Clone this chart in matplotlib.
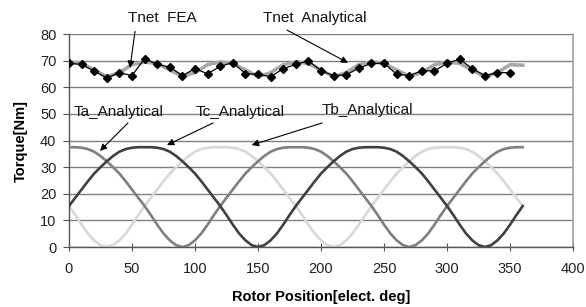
import matplotlib.pyplot as plt

plt.rcParams['font.family'] = ['Liberation Sans', 'DejaVu Sans']

# rotor position [elect. deg]
pos = [0, 5, 10, 15, 20, 25, 30, 35, 40, 45, 50, 55, 60, 65, 70, 75, 80, 85, 90,
       95, 100, 105, 110, 115, 120, 125, 130, 135, 140, 145, 150, 155, 160, 165, 170, 175, 180,
       185, 190, 195, 200, 205, 210, 215, 220, 225, 230, 235, 240, 245, 250, 255, 260, 265, 270,
       275, 280, 285, 290, 295, 300, 305, 310, 315, 320, 325, 330, 335, 340, 345, 350, 355, 360]

ta = [37.5, 37.5, 37.3, 36.8, 35.8, 34.2, 32.2, 30.0, 27.6, 24.7, 21.6, 18.5, 15.4, 12.0, 8.4, 5.1, 2.5, 0.7, 0.0,
      0.7, 2.5, 5.1, 8.4, 12.0, 15.4, 18.5, 21.6, 24.7, 27.6, 30.0, 32.2, 34.2, 35.8, 36.8, 37.3, 37.5, 37.5,
      37.5, 37.3, 36.8, 35.8, 34.2, 32.2, 30.0, 27.6, 24.7, 21.6, 18.5, 15.4, 12.0, 8.4, 5.1, 2.5, 0.7, 0.0,
      0.7, 2.5, 5.1, 8.4, 12.0, 15.4, 18.5, 21.6, 24.7, 27.6, 30.0, 32.2, 34.2, 35.8, 36.8, 37.3, 37.5, 37.5]

tb = [15.4, 12.0, 8.4, 5.1, 2.5, 0.7, 0.0,
      0.7, 2.5, 5.1, 8.4, 12.0, 15.4, 18.5, 21.6, 24.7, 27.6, 30.0, 32.2, 34.2, 35.8, 36.8, 37.3, 37.5, 37.5,
      37.5, 37.3, 36.8, 35.8, 34.2, 32.2, 30.0, 27.6, 24.7, 21.6, 18.5, 15.4, 12.0, 8.4, 5.1, 2.5, 0.7, 0.0,
      0.7, 2.5, 5.1, 8.4, 12.0, 15.4, 18.5, 21.6, 24.7, 27.6, 30.0, 32.2, 34.2, 35.8, 36.8, 37.3, 37.5, 37.5,
      37.5, 37.3, 36.8, 35.8, 34.2, 32.2, 30.0, 27.6, 24.7, 21.6, 18.5, 15.4]

tc = [15.4, 18.5, 21.6, 24.7, 27.6, 30.0, 32.2, 34.2, 35.8, 36.8, 37.3, 37.5, 37.5,
      37.5, 37.3, 36.8, 35.8, 34.2, 32.2, 30.0, 27.6, 24.7, 21.6, 18.5, 15.4, 12.0, 8.4, 5.1, 2.5, 0.7, 0.0,
      0.7, 2.5, 5.1, 8.4, 12.0, 15.4, 18.5, 21.6, 24.7, 27.6, 30.0, 32.2, 34.2, 35.8, 36.8, 37.3, 37.5, 37.5,
      37.5, 37.3, 36.8, 35.8, 34.2, 32.2, 30.0, 27.6, 24.7, 21.6, 18.5, 15.4, 12.0, 8.4, 5.1, 2.5, 0.7, 0.0,
      0.7, 2.5, 5.1, 8.4, 12.0, 15.4]

# net torque, analytical (every 10 deg)
pos_net = [0, 10, 20, 30, 40, 50, 60, 70, 80, 90, 100, 110, 120, 130, 140, 150, 160, 170, 180,
           190, 200, 210, 220, 230, 240, 250, 260, 270, 280, 290, 300, 310, 320, 330, 340, 350, 360]
tnet_an = [69.5, 69.0, 66.5, 64.0, 65.5, 68.5, 69.5, 69.0, 66.5, 64.2, 65.5, 68.5, 69.5, 69.0, 66.5, 64.0,
           65.5, 68.5, 69.5, 69.0, 66.5, 64.0, 65.5, 68.5, 69.5, 69.0, 66.5, 64.2, 65.5, 68.5, 69.5,
           69.0, 66.5, 64.0, 65.5, 68.5, 68.3]

# net torque, FEA
pos_fea = [0, 10, 20, 30, 40, 50, 60, 70, 80, 90, 100, 110, 120, 130, 140, 150, 160, 170,
           180, 190, 200, 210, 220, 230, 240, 250, 260, 270, 280, 290, 300, 310, 320, 330, 340, 350]
tnet_fea = [69.0, 68.6, 66.1, 63.5, 65.5, 64.4, 70.8, 68.6, 67.6, 64.4, 67.0, 65.1, 67.9, 69.3, 65.1, 64.9,
            64.0, 67.0, 68.6, 70.0, 66.2, 64.4, 64.7, 67.2, 69.0, 69.0, 64.9, 64.4, 66.2, 66.2, 69.0,
            70.6, 67.0, 64.4, 65.5, 65.5]

fig = plt.figure(figsize=(5.86, 3.07), dpi=100)
ax = fig.add_axes([0.1177, 0.1954, 0.8603, 0.6936])

ax.plot(pos, ta, color='#7f7f7f', lw=1.9, zorder=3)
ax.plot(pos, tb, color='#d8d8d8', lw=1.9, zorder=2)
ax.plot(pos, tc, color='#404040', lw=1.9, zorder=4)
ax.plot(pos_net, tnet_an, color='#a8a8a8', lw=2.6, zorder=5)
ax.plot(pos_fea, tnet_fea, color='black', lw=0.9, marker='D', ms=4.4, zorder=6)

ax.set_xlim(0, 400)
ax.set_ylim(0, 80)
ax.set_xticks(range(0, 401, 50))
ax.set_yticks(range(0, 81, 10))
ax.yaxis.grid(True, color='#808080', lw=1.0)
ax.set_axisbelow(True)

for s in ['left', 'bottom']:
    ax.spines[s].set_color('#555555')
    ax.spines[s].set_linewidth(1.0)
ax.spines['top'].set_visible(False)
ax.spines['right'].set_color('#a0a0a0')
ax.spines['right'].set_linewidth(1.2)

ax.tick_params(axis='x', direction='inout', length=6, width=0.8, color='#555555',
               labelsize=10.5, pad=8, labelcolor='#222222')
ax.tick_params(axis='y', direction='out', length=4, width=0.8, color='#555555',
               labelsize=10.5, pad=5, labelcolor='#222222')

ax.set_xlabel('Rotor Position[elect. deg]', fontsize=10.5, fontweight='bold', labelpad=10)
ax.set_ylabel('Torque[Nm]', fontsize=10.5, fontweight='bold', labelpad=9)

txt = dict(fontsize=11, ha='center', va='center', color='#111111', clip_on=False, zorder=7)
ax.text(74, 86.1, 'Tnet  FEA', **txt)
ax.text(195, 86.1, 'Tnet  Analytical', **txt)
ax.text(39, 50.8, 'Ta_Analytical', **txt)
ax.text(136, 50.8, 'Tc_Analytical', **txt)
ax.text(237, 51.3, 'Tb_Analytical', **txt)

arr = dict(arrowstyle='-|>', color='black', lw=0.8, mutation_scale=10, shrinkA=0, shrinkB=0)
ax.annotate('', xy=(48.4, 67.3), xytext=(52.4, 81.0), arrowprops=arr, annotation_clip=False, zorder=8)
ax.annotate('', xy=(221.4, 69.2), xytext=(173.0, 81.5), arrowprops=arr, annotation_clip=False, zorder=8)
ax.annotate('', xy=(24.6, 36.1), xytext=(46.8, 46.6), arrowprops=arr, zorder=8)
ax.annotate('', xy=(77.8, 38.3), xytext=(114.3, 46.6), arrowprops=arr, zorder=8)
ax.annotate('', xy=(145.0, 38.3), xytext=(200.8, 46.6), arrowprops=arr, zorder=8)

fig.savefig('out.png', dpi=100)
